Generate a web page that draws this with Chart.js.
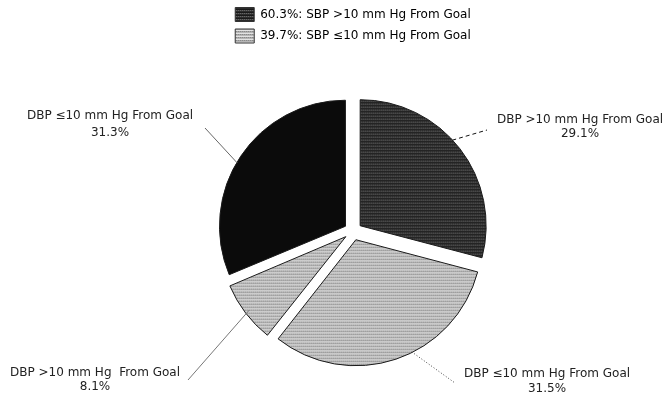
<!DOCTYPE html>
<html>
<head>
<meta charset="utf-8">
<script src="https://cdn.jsdelivr.net/npm/chart.js@4.4.1/dist/chart.umd.min.js"></script>
<style>
  html, body { margin: 0; padding: 0; background: #fff; }
  #wrap { width: 668px; height: 397px; }
</style>
</head>
<body>
<div id="wrap"><canvas id="pie"></canvas></div>
<script>
// slices, clockwise from 12 o'clock
const dbpLabels = ["DBP >10 mm Hg From Goal", "DBP ≤10 mm Hg From Goal", "DBP >10 mm Hg  From Goal", "DBP ≤10 mm Hg From Goal"];
const dbpShares = [29.1, 31.5, 8.1, 31.3];

// legend (SBP groups)
const sbpLabels = ["SBP >10 mm Hg From Goal", "SBP ≤10 mm Hg From Goal"];
const sbpShares = [60.3, 39.7];

const FONT = '"DejaVu Sans", sans-serif';

// little striped tiles, like the hatched print fills
function stripes(rows) {
  const c = document.createElement("canvas");
  c.width = rows[0].length; c.height = rows.length;
  const g = c.getContext("2d");
  rows.forEach((r, j) => r.forEach((col, i) => { g.fillStyle = col; g.fillRect(i, j, 1, 1); }));
  return g.createPattern(c, "repeat");
}
const darkFill = stripes([
  ["#1a1a1a", "#1a1a1a", "#1a1a1a", "#1a1a1a"],
  ["#666666", "#404040", "#666666", "#404040"],
  ["#2c2c2c", "#2c2c2c", "#2c2c2c", "#2c2c2c"]
]);
const lightFill = stripes([
  ["#e2e2e2", "#e2e2e2", "#e2e2e2", "#e2e2e2"],
  ["#8a8a8a", "#a8a8a8", "#8a8a8a", "#a8a8a8"],
  ["#b6b6b6", "#b6b6b6", "#b6b6b6", "#b6b6b6"]
]);
const sliceFill = [darkFill, lightFill, lightFill, "#0b0b0b"];
const sbpFill = [darkFill, lightFill];

// arc offset is drawn at offset/4; also undo the radius growth chart.js adds to narrow slices
const fixRadius = {
  id: "fixRadius",
  afterDatasetUpdate(chart, args) {
    args.meta.data.forEach(arc => {
      const circ = arc.endAngle - arc.startAngle;
      const off = (arc.options.offset || 0) / 4;
      arc.outerRadius -= off * (1 - Math.sin(Math.min(Math.PI, circ)));
    });
  }
};

const callouts = {
  id: "callouts",
  afterDatasetsDraw(chart, args, o) {
    const ctx = chart.ctx;
    const arcs = chart.getDatasetMeta(0).data;
    ctx.save();
    arcs.forEach((arc, i) => {
      const { x, y, startAngle, endAngle, outerRadius } = arc.getProps(["x", "y", "startAngle", "endAngle", "outerRadius"], true);
      const off = (arc.options.offset || 0) / 4;
      const mid = (startAngle + endAngle) / 2;
      const a = startAngle + (endAngle - startAngle) * o.anchor[i];
      const px = x + Math.cos(mid) * off + Math.cos(a) * outerRadius;
      const py = y + Math.sin(mid) * off + Math.sin(a) * outerRadius;
      ctx.beginPath();
      ctx.setLineDash(o.dash[i]);
      ctx.strokeStyle = o.lineColor[i];
      ctx.lineWidth = 1;
      ctx.moveTo(px, py);
      ctx.lineTo(o.lineEnd[i][0], o.lineEnd[i][1]);
      ctx.stroke();
      ctx.setLineDash([]);

      ctx.fillStyle = "#222";
      ctx.font = "12px " + FONT;
      ctx.textAlign = "center";
      ctx.textBaseline = "middle";
      const [tx, ty] = o.text[i];
      ctx.fillText(dbpLabels[i], tx, ty);
      ctx.fillText(dbpShares[i].toFixed(1) + "%", tx, ty + o.gap[i]);
    });
    ctx.restore();
  }
};

new Chart(document.getElementById("pie"), {
  type: "pie",
  data: {
    labels: dbpLabels,
    datasets: [{
      data: dbpShares,
      backgroundColor: sliceFill,
      borderColor: "#1a1a1a",
      borderWidth: 1,
      offset: 36
    }]
  },
  plugins: [fixRadius, callouts],
  options: {
    responsive: true,
    maintainAspectRatio: false,
    devicePixelRatio: 1,
    animation: false,
    radius: 126,
    layout: { padding: { left: 123, right: 85, top: 0, bottom: 0 } },
    plugins: {
      tooltip: { enabled: false },
      // empty spacer between legend and pie
      subtitle: { display: true, text: "", weight: 500, font: { size: 2 }, padding: { top: 0, bottom: 10 } },
      legend: {
        position: "top",
        labels: {
          boxWidth: 19,
          boxHeight: 14,
          padding: 7.5,
          color: "#222",
          font: { family: FONT, size: 12 },
          generateLabels: () => sbpLabels.map((t, i) => ({
            text: sbpShares[i].toFixed(1) + "%: " + t,
            fillStyle: sbpFill[i],
            strokeStyle: "#333",
            lineWidth: 1,
            hidden: false,
            index: i
          }))
        }
      },
      callouts: {
        anchor: [0.45, 0.43, 0.5, 0.47],
        lineEnd: [[487, 130], [455, 383], [188, 380], [205, 128]],
        dash: [[4, 3], [1, 2], [], []],
        lineColor: ["#111", "#444", "#777", "#666"],
        text: [[580, 120], [547, 374], [95, 373], [110, 116]],
        gap: [14, 15, 14, 17]
      }
    }
  }
});
</script>
</body>
</html>
